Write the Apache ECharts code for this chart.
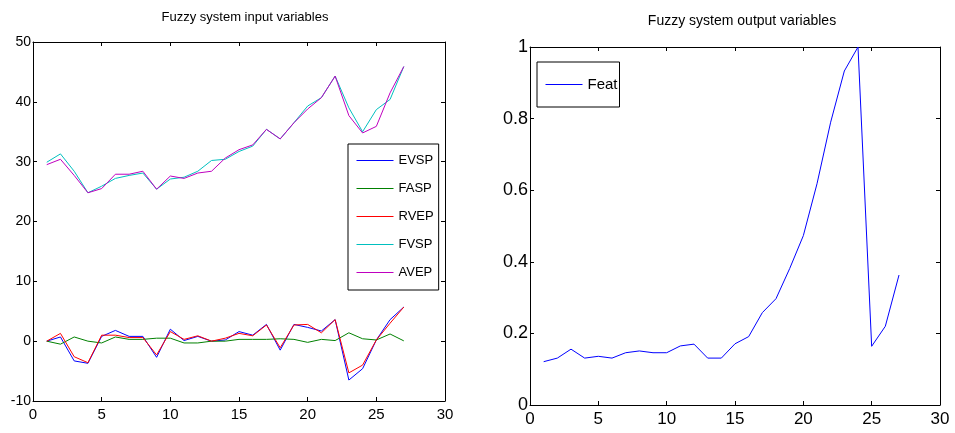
<!DOCTYPE html>
<html>
<head>
<meta charset="utf-8">
<script src="https://cdn.jsdelivr.net/npm/echarts@6/dist/echarts.min.js"></script>
<style>
  html, body { margin: 0; padding: 0; background: #fff; }
  #chart { width: 955px; height: 433px; }
</style>
</head>
<body>
<div id="chart"></div>
<script>
// x positions (samples 1..27)
let steps = [1,2,3,4,5,6,7,8,9,10,11,12,13,14,15,16,17,18,19,20,21,22,23,24,25,26,27];

// input variables
let evsp = [0,0.7,-3.3,-3.7,0.8,1.8,0.8,0.8,-2.7,2.0,0.1,0.8,0,0.2,1.6,1.0,2.8,-1.5,2.8,2.3,1.7,3.6,-6.5,-4.6,0.2,3.6,5.7];
let fasp = [0,-0.5,0.7,0,-0.3,0.7,0.3,0.3,0.5,0.5,-0.3,-0.3,0,0,0.3,0.3,0.3,0.4,0.3,-0.2,0.3,0.1,1.4,0.4,0.2,1.2,0.05];
let rvep = [0,1.3,-2.6,-3.6,1.0,1.0,0.6,0.6,-2.3,1.6,0.3,0.9,0,0.5,1.3,0.9,2.7,-1.1,2.7,2.8,1.4,3.6,-5.3,-4.0,0.2,3.0,5.7];
let fvsp = [29.9,31.3,28.4,24.8,25.9,27.2,27.7,28.1,25.4,27.1,27.4,28.4,30.2,30.4,31.7,32.6,35.4,33.8,36.5,39.3,40.7,44.3,39.0,35.0,38.7,40.4,45.9];
let avep = [29.5,30.4,27.7,24.8,25.5,27.9,27.9,28.4,25.4,27.6,27.2,28.1,28.4,30.6,32.0,32.8,35.4,33.8,36.5,38.8,40.7,44.3,37.7,34.8,35.9,41.5,45.9];

// output variable
let feat = [0.121,0.131,0.156,0.131,0.136,0.131,0.146,0.151,0.146,0.146,0.165,0.170,0.131,0.131,0.171,0.191,0.258,0.297,0.381,0.473,0.618,0.79,0.933,1.0,0.164,0.22,0.363];

let inputNames = ['EVSP','FASP','RVEP','FVSP','AVEP'];
let inputData = [evsp, fasp, rvep, fvsp, avep];
let inputColors = ['#0000ff','#008000','#ff0000','#00bfbf','#bf00bf'];
let featColor = '#0000ff';

let font = "'Liberation Sans Narrow','Liberation Sans',Arial,sans-serif";

function pairs(ys) {
    return steps.map(function (x, i) { return [x, ys[i]]; });
}

let chart = echarts.init(document.getElementById('chart'));

function boxAxis(gridIndex, min, max, interval, fontSize, margin, showLabel, pos) {
    return {
        type: 'value',
        gridIndex: gridIndex,
        min: min, max: max, interval: interval,
        position: pos,
        axisLine: {show: true, onZero: false, lineStyle: {color: '#000', width: 1}},
        axisTick: {show: true, inside: true, length: 4, lineStyle: {color: '#000'}},
        splitLine: {show: false},
        axisLabel: {
            show: showLabel,
            color: '#000',
            fontFamily: font,
            fontSize: fontSize,
            margin: margin,
            showMinLabel: true,
            showMaxLabel: true
        }
    };
}

let series = [];
for (let i = 0; i < inputNames.length; i++) {
    series.push({
        name: inputNames[i],
        type: 'line',
        xAxisIndex: 0,
        yAxisIndex: 0,
        data: pairs(inputData[i]),
        showSymbol: false,
        symbol: 'none',
        color: inputColors[i],
        lineStyle: {width: 1}
    });
}
series.push({
    name: 'Feat',
    type: 'line',
    xAxisIndex: 2,
    yAxisIndex: 2,
    data: pairs(feat),
    showSymbol: false,
    symbol: 'none',
    color: featColor,
    lineStyle: {width: 1}
});

let option = {
    animation: false,
    title: [
        {
            text: 'Fuzzy system input variables',
            left: 240, top: 6, textAlign: 'center',
            textStyle: {fontFamily: font, fontSize: 13, fontWeight: 'normal', color: '#000'}
        },
        {
            text: 'Fuzzy system output variables',
            left: 737, top: 9, textAlign: 'center',
            textStyle: {fontFamily: font, fontSize: 14, fontWeight: 'normal', color: '#000'}
        }
    ],
    legend: [
        {
            data: inputNames,
            orient: 'vertical',
            left: 348, top: 144,
            padding: [10, 5, 11, 8],
            itemWidth: 37, itemHeight: 14, itemGap: 15,
            backgroundColor: '#fff',
            borderColor: '#000', borderWidth: 1,
            itemStyle: {opacity: 0},
            lineStyle: {width: 1},
            textStyle: {fontFamily: font, fontSize: 13, color: '#000'}
        },
        {
            data: ['Feat'],
            orient: 'vertical',
            left: 537, top: 62,
            padding: [15, 2, 15, 8],
            itemWidth: 37, itemHeight: 14,
            backgroundColor: '#fff',
            borderColor: '#000', borderWidth: 1,
            itemStyle: {opacity: 0},
            lineStyle: {width: 1},
            textStyle: {fontFamily: font, fontSize: 15, color: '#000'}
        }
    ],
    grid: [
        {left: 33, right: 510, top: 42, bottom: 32},
        {left: 530, right: 15, top: 47, bottom: 28}
    ],
    xAxis: [
        boxAxis(0, 0, 30, 5, 15, 6, true, 'bottom'),
        boxAxis(0, 0, 30, 5, 15, 6, false, 'top'),
        boxAxis(1, 0, 30, 5, 17, 6, true, 'bottom'),
        boxAxis(1, 0, 30, 5, 17, 6, false, 'top')
    ],
    yAxis: [
        boxAxis(0, -10, 50, 10, 14, 2, true, 'left'),
        boxAxis(0, -10, 50, 10, 14, 2, false, 'right'),
        boxAxis(1, 0, 1, 0.2, 18, 2, true, 'left'),
        boxAxis(1, 0, 1, 0.2, 18, 2, false, 'right')
    ],
    series: series
};

chart.setOption(option);
window.addEventListener('resize', function () {chart.resize();});
</script>
</body>
</html>
